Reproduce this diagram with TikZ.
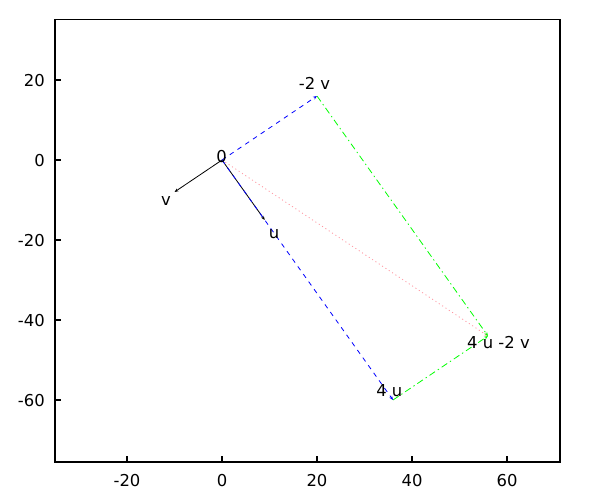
\documentclass[tikz,border=0pt]{standalone}
\usepackage{fontspec}
\setmainfont{DejaVu Sans}
\usetikzlibrary{arrows.meta}
\definecolor{plotblue}{RGB}{0,0,255}
\definecolor{plotgreen}{RGB}{0,255,0}
\definecolor{plotpink}{RGB}{255,150,160}
\begin{document}
\begin{tikzpicture}[x=0.75pt,y=-0.75pt,
  lbl/.style={font=\fontsize{12.3}{14}\selectfont,anchor=base,inner sep=0pt},
  ylbl/.style={font=\fontsize{12.3}{14}\selectfont,anchor=base east,inner sep=0pt},
  tip/.style={-{Stealth[length=3pt,width=2.4pt]}},
  vec/.style={tip,line width=0.6pt,black},
  bluedash/.style={tip,line width=0.6pt,plotblue,dash pattern=on 3.5pt off 3.5pt},
  greendash/.style={tip,line width=0.6pt,plotgreen,dash pattern=on 5pt off 2.5pt on 1pt off 2.5pt},
  pinkdot/.style={tip,line width=0.6pt,plotpink,dash pattern=on 0.8pt off 2.2pt},
  frame/.style={line width=0.9pt,black}]
\useasboundingbox (0,0) rectangle (600,500);
% data -> pixel: px = 222 + 4.75 X, py = 160 - 4 Y
\coordinate (O) at (222,160);
\coordinate (U) at ({222+4.75*9},{160-4*(-15)});
\coordinate (V) at ({222+4.75*(-10)},{160-4*(-8)});
\coordinate (M2V) at ({222+4.75*20},{160-4*16});
\coordinate (U4) at ({222+4.75*36},{160-4*(-60)});
\coordinate (S) at ({222+4.75*56},{160-4*(-44)});
% frame
\draw[frame] (55,19.5) rectangle (560,462);
% x ticks
\foreach \v/\px in {-20/127,0/222,20/317,40/412,60/507}{
  \draw[frame] (\px,462) -- (\px,456);
  \node[lbl] (xt\px) at (\px,486) {\v};
}
% y ticks
\foreach \v/\py in {20/80,0/160,-20/240,-40/320,-60/400}{
  \draw[frame] (55,\py) -- (61,\py);
  \node[ylbl] (yt\py) at (45,\py+6) {\v};
}
% lines
\draw[vec] (O) -- (U);
\draw[vec] (O) -- (V);
\draw[pinkdot] (O) -- (S);
\draw[bluedash] (O) -- (M2V);
\draw[bluedash] (O) -- (U4);
\draw[greendash] (M2V) -- (S);
\draw[greendash] (U4) -- (S);
% labels
\node[lbl] (l0) at (221.5,162) {0};
\node[lbl] (lm2v) at (314.5,89) {-2 v};
\node[lbl] (lv) at (166,205) {v};
\node[lbl] (lu) at (274,238) {u};
\node[lbl] (l4u) at (389.3,396) {4 u};
\node[lbl] (ls) at (498.5,348) {4 u -2 v};
\end{tikzpicture}
\end{document}
